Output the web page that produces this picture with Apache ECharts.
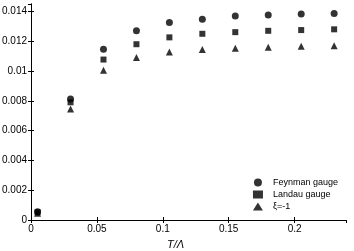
<!DOCTYPE html>
<html><head><meta charset="utf-8">
<script src="https://cdn.jsdelivr.net/npm/echarts@6/dist/echarts.min.js"></script>
<style>html,body{margin:0;padding:0;background:#fff}#c{width:354px;height:251px}</style>
</head><body><div id="c"></div>
<script>
var xValues = [0.005, 0.03, 0.055, 0.08, 0.105, 0.13, 0.155, 0.18, 0.205, 0.23];
var feynman = [0.00056, 0.00813, 0.01147, 0.01271, 0.01325, 0.01347, 0.01369, 0.01376, 0.01383, 0.01387];
var landau  = [0.00052, 0.00790, 0.01077, 0.01180, 0.01226, 0.01250, 0.01261, 0.01270, 0.01275, 0.01280];
var xiMinus1 = [0.00046, 0.00745, 0.01005, 0.01091, 0.01127, 0.01145, 0.01153, 0.01160, 0.01167, 0.01170];
var seriesNames = ['Feynman gauge', 'Landau gauge', 'ξ=-1'];
var xTicks = [0, 0.05, 0.1, 0.15, 0.2];
var yTicks = [0, 0.002, 0.004, 0.006, 0.008, 0.01, 0.012, 0.014];

function pairs(ys){ return xValues.map(function(x,i){ return [x, ys[i]]; }); }
var font = 'Liberation Sans, Arial, sans-serif';
var chart = echarts.init(document.getElementById('c'), null, {renderer:'canvas'});
var axisBase = {
  axisLine:{show:true, lineStyle:{color:'#000', width:1}},
  axisTick:{show:true, inside:true, length:3, lineStyle:{color:'#000'}},
  splitLine:{show:false}
};
function fmt(v){ return String(+v.toFixed(4)); }
chart.setOption({
  animation:false,
  grid:{left:31, right:8, top:4, bottom:31, containLabel:false, outerBoundsMode:'none'},
  legend:{
    orient:'vertical', right:16, bottom:40, padding:0, itemGap:3, itemWidth:10, itemHeight:8,
    formatter:function(n){ return '\u00a0\u00a0' + n; },
    textStyle:{fontFamily:font, fontSize:9, color:'#000'},
    data:[{name:seriesNames[0], icon:'circle'},{name:seriesNames[1], icon:'rect'},{name:seriesNames[2], icon:'triangle'}]
  },
  xAxis:[
    Object.assign({type:'value', min:0, max:0.239, interval:0.05, position:'bottom',
      name:'T/Λ', nameLocation:'middle', nameGap:19,
      nameTextStyle:{fontFamily:font, fontSize:11, fontStyle:'italic', color:'#000', padding:[0,26,0,0]},
      axisLabel:{fontFamily:font, fontSize:10, color:'#000', margin:4, showMaxLabel:false,
        formatter:function(v){ return xTicks.indexOf(+v.toFixed(3))>=0 ? fmt(v) : ''; }}}, axisBase),
    Object.assign({type:'value', min:0, max:0.239, interval:0.05, position:'top', axisLabel:{show:false}}, axisBase)
  ],
  yAxis:[
    Object.assign({type:'value', min:0, max:0.0145, interval:0.002, position:'left',
      axisLabel:{fontFamily:font, fontSize:10, color:'#000', margin:4, showMaxLabel:false,
        formatter:function(v){ return yTicks.indexOf(+v.toFixed(4))>=0 ? fmt(v) : ''; }}}, axisBase),
    Object.assign({type:'value', min:0, max:0.0145, interval:0.002, position:'right', axisLabel:{show:false}}, axisBase)
  ],
  series:[
    {name:seriesNames[0], type:'scatter', symbol:'circle', symbolSize:7, itemStyle:{color:'#000'}, data:pairs(feynman)},
    {name:seriesNames[1], type:'scatter', symbol:'rect', symbolSize:6, itemStyle:{color:'#000'}, data:pairs(landau)},
    {name:seriesNames[2], type:'scatter', symbol:'triangle', symbolSize:7, itemStyle:{color:'#000'}, data:pairs(xiMinus1)}
  ]
});
</script></body></html>
